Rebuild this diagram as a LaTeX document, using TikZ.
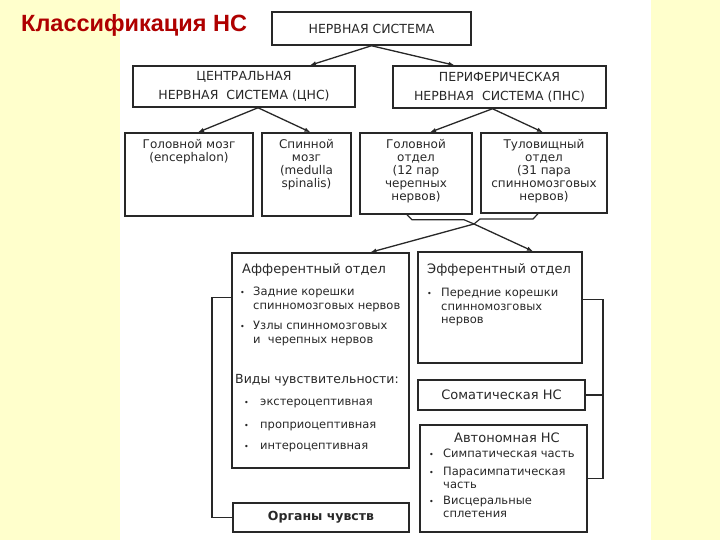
\documentclass[tikz,border=0pt]{standalone}
\usepackage{fontspec}
\setmainfont{DejaVu Sans}
\newfontfamily\titlefont{Liberation Sans}
\usetikzlibrary{arrows.meta,positioning}
\definecolor{bgyellow}{RGB}{255,255,204}
\definecolor{ink}{RGB}{40,40,40}
\definecolor{titlered}{RGB}{175,0,0}
\newcommand{\bul}{{\footnotesize\textbullet}}

\begin{document}
\begin{tikzpicture}[x=1pt,y=-1pt,
    box/.style={rectangle, draw=ink, line width=1.5pt, inner sep=0pt},
    sz/.style 2 args={minimum width=#1pt, minimum height=#2pt},
    caps/.style={font=\fontsize{12.5}{19}\selectfont, align=center, text=ink},
    txt/.style={font=\fontsize{12}{13}\selectfont, align=center, text=ink, inner sep=0pt},
    lst/.style={font=\fontsize{11.5}{13.5}\selectfont, text=ink, inner sep=0pt, anchor=north west},
    hdr/.style={font=\fontsize{13}{15}\selectfont, text=ink, inner sep=0pt},
    arr/.style={-{Latex[length=6pt,width=4.5pt]}, draw=ink, line width=1.3pt},
    link/.style={draw=ink, line width=1.4pt}
]
\useasboundingbox (0,0) rectangle (720,540);
\fill[bgyellow] (0,0) rectangle (720,540);
\fill[white] (120,0) rectangle (651,540);

% Title
\node[font=\titlefont\bfseries\fontsize{23.5}{26}\selectfont, text=titlered, anchor=west, inner sep=0pt] (title) at (21,25) {Классификация НС};

% Top levels
\node[box, sz={199}{33}, caps] (ns) at (371.5,28.5) {НЕРВНАЯ СИСТЕМА};
\node[box, sz={222}{41}, caps] (cns) at (244,86.5) {ЦЕНТРАЛЬНАЯ\\НЕРВНАЯ\ \ СИСТЕМА (ЦНС)};
\node[box, sz={213}{42}, caps] (pns) at (499.5,87) {ПЕРИФЕРИЧЕСКАЯ\\НЕРВНАЯ\ \ СИСТЕМА (ПНС)};

% Parts of CNS and PNS
\node[box, sz={128}{83}] (brain) at (189,174.5) {};
\node[box, sz={89}{83}] (spinal) at (306.5,174.5) {};
\node[box, sz={112}{81}] (cranial) at (416,173.5) {};
\node[box, sz={126}{80}] (trunk) at (544,173) {};
\node[txt, anchor=north] (braintxt) at ([yshift=-7pt]brain.north) {Головной мозг\\(encephalon)};
\node[txt, anchor=north] (spinaltxt) at ([yshift=-7pt]spinal.north) {Спинной\\мозг\\(medulla\\spinalis)};
\node[txt, anchor=north] (cranialtxt) at ([yshift=-7pt]cranial.north) {Головной\\отдел\\(12 пар\\черепных\\нервов)};
\node[txt, anchor=north] (trunktxt) at ([yshift=-7pt]trunk.north) {Туловищный\\отдел\\(31 пара\\спинномозговых\\нервов)};

% Afferent and efferent parts
\node[box, sz={177}{215}] (aff) at (320.5,360.5) {};
\node[box, sz={164}{111}] (eff) at (500,307.5) {};
\node[box, sz={167}{30}, hdr] (som) at (501.5,395) {Соматическая НС};
\node[box, sz={167}{107}] (auto) at (503.5,478.5) {};
\node[box, sz={176}{29}, hdr, font=\fontsize{12.5}{14}\selectfont\bfseries] (organs) at (321,517.5) {Органы чувств};

\node[hdr, anchor=west] (afftitle) at (242,270) {Афферентный отдел};
\node[lst] (afflist) at (240,286) {\begin{tabular}{@{}p{13pt}@{}l@{}}
  \bul & Задние корешки\\
       & спинномозговых нервов\\[7pt]
  \bul & Узлы спинномозговых\\
       & и\ \ черепных нервов
\end{tabular}};
\node[hdr, anchor=west, font=\fontsize{12.5}{14}\selectfont] (kinds) at (235,380) {Виды чувствительности:};
\node[lst] (kindlist) at (244,396) {\begin{tabular}{@{}p{16pt}@{}l@{}}
  \bul & экстероцептивная\\[9pt]
  \bul & проприоцептивная\\[8pt]
  \bul & интероцептивная
\end{tabular}};

\node[hdr, anchor=west] (efftitle) at (427,270) {Эфферентный отдел};
\node[lst] (efflist) at (427,287) {\begin{tabular}{@{}p{14pt}@{}l@{}}
  \bul & Передние корешки\\
       & спинномозговых\\
       & нервов
\end{tabular}};

\node[hdr, font=\fontsize{13}{15}\selectfont] (autotitle) at (507,438) {Автономная НС};
\node[lst] (autolist) at (429,448) {\begin{tabular}{@{}p{14pt}@{}l@{}}
  \bul & Симпатическая часть\\[4pt]
  \bul & Парасимпатическая\\
       & часть\\[2pt]
  \bul & Висцеральные\\
       & сплетения
\end{tabular}};

% Arrows
\draw[arr] (ns.south) -- ([xshift=66pt]cns.north);
\draw[arr] (ns.south) -- ([xshift=-45pt]pns.north);
\draw[arr] ([xshift=14pt]cns.south) -- ([xshift=9pt]brain.north);
\draw[arr] ([xshift=14pt]cns.south) -- ([xshift=4pt]spinal.north);
\draw[arr] ([xshift=-7pt]pns.south) -- ([xshift=14pt]cranial.north);
\draw[arr] ([xshift=-7pt]pns.south) -- ([xshift=-1pt]trunk.north);

% Brace under PNS parts
\coordinate (cusp) at (474,224);
\draw[link, line width=1.2pt] ([xshift=-9pt]cranial.south) -- ++(5,5) -- ++(52,0) -- (cusp) -- ++(6,-5) -- ++(53,0) -- ([xshift=-6pt]trunk.south);
\draw[arr] (cusp) -- ([xshift=50pt]aff.north);
\draw[arr] (cusp) -- ([xshift=33pt]eff.north);

% Side connectors
\coordinate (lb) at (212,0);
\coordinate (rb) at (603,0);
\draw[link] ([yshift=63pt]aff.west) -| (lb |- organs.west) -- (organs.west);
\draw[link] ([yshift=8pt]eff.east) -| (rb |- auto.east) -- (auto.east);
\draw[link] (som.east) -- (som.east -| rb);

\end{tikzpicture}
\end{document}
